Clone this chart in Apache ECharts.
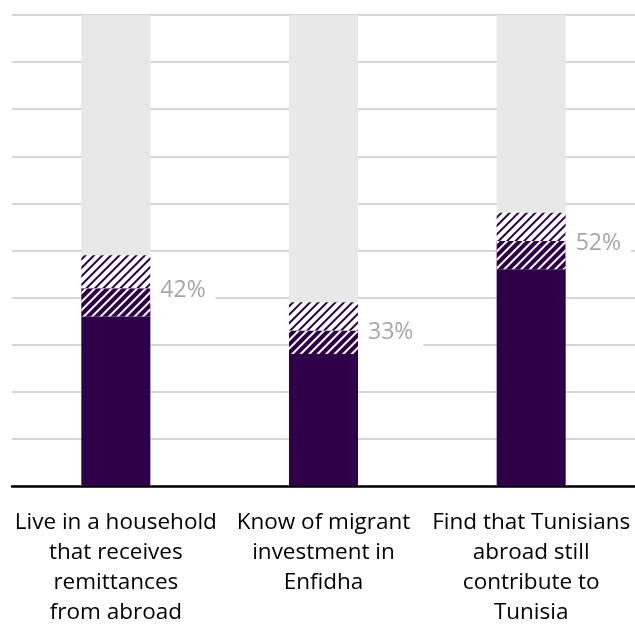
<!DOCTYPE html>
<html><head><meta charset="utf-8">
<script src="https://cdn.jsdelivr.net/npm/echarts@6/dist/echarts.min.js"></script>
<style>html,body{margin:0;padding:0;background:#fff}#c{width:635px;height:628px}</style>
</head><body><div id="c"></div>
<script>
const categories = ['Live in a household\nthat receives\nremittances\nfrom abroad', 'Know of migrant\ninvestment in\nEnfidha', 'Find that Tunisians\nabroad still\ncontribute to\nTunisia'];
const solidValues = [36, 28, 46];
const denseHatchValues = [6, 5, 6];
const lightHatchValues = [7, 6, 6];
const labelValues = ['42%', '33%', '52%'];

const DARK = '#2d0047';
const FONT = 'Open Sans';
const chart = echarts.init(document.getElementById('c'), null, {renderer: 'canvas'});
chart.setOption({
  animation: false,
  grid: {left: 12, right: 0, top: 15, bottom: 142},
  xAxis: {
    type: 'category', data: categories,
    axisLine: {lineStyle: {color: '#000', width: 2.5}},
    axisTick: {show: false},
    axisLabel: {color: '#000', fontSize: 22.5, lineHeight: 30, margin: 22, fontFamily: FONT, interval: 0}
  },
  yAxis: {
    type: 'value', min: 0, max: 100, interval: 10,
    axisLabel: {show: false}, axisLine: {show: false}, axisTick: {show: false},
    splitLine: {lineStyle: {color: '#c9c9c9', width: 1.5}}
  },
  series: [
    {type: 'bar', stack: 's', barWidth: 69, data: solidValues,
     itemStyle: {color: DARK},
     showBackground: true, backgroundStyle: {color: '#e8e8e8'}},
    {type: 'bar', stack: 's', barWidth: 69, data: denseHatchValues.map((v, i) => ({value: v, label: {formatter: labelValues[i]}})),
     itemStyle: {color: DARK, decal: {symbol: 'rect', symbolSize: 1, color: '#ffffff', dashArrayX: [1, 0], dashArrayY: [1.4, 3.3], rotation: -Math.PI / 4}},
     label: {show: true, position: ['100%', 0], offset: [0, 2], align: 'left', verticalAlign: 'middle', color: '#a6a6a6', fontSize: 23, fontFamily: FONT,
             backgroundColor: '#fff', padding: [2, 10, 2, 10]}},
    {type: 'bar', stack: 's', barWidth: 69, data: lightHatchValues,
     itemStyle: {color: '#ffffff', decal: {symbol: 'rect', symbolSize: 1, color: DARK, dashArrayX: [1, 0], dashArrayY: [1.2, 3.5], rotation: -Math.PI / 4}}}
  ]
});
</script></body></html>
